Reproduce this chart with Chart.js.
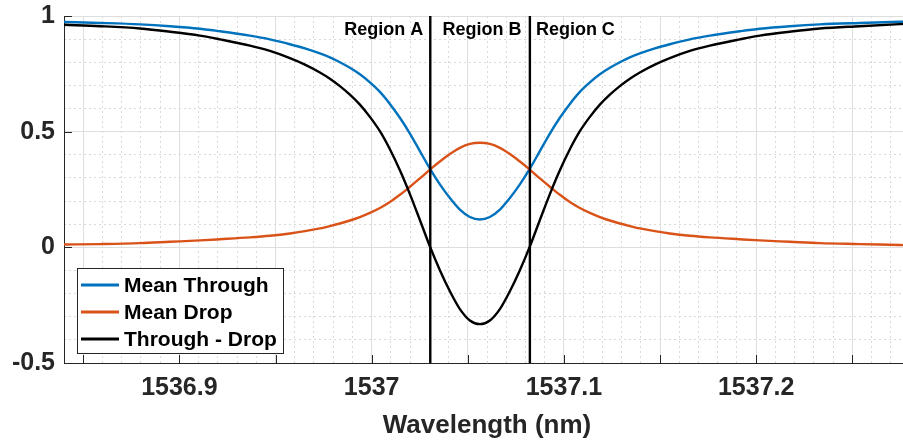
<!DOCTYPE html>
<html>
<head>
<meta charset="utf-8">
<script src="https://cdn.jsdelivr.net/npm/chart.js@4.4.1/dist/chart.umd.min.js"></script>
<style>
html,body{margin:0;padding:0;overflow:hidden;background:#fff;width:903px;height:441px;}
#wrap{width:912px;height:441px;position:relative;}
canvas{display:block;}
</style>
</head>
<body>
<div id="wrap"><canvas id="c" width="912" height="441"></canvas></div>
<script>
// ---------- data ----------
const wavelength = [
  1536.8400, 1536.8587, 1536.8795, 1536.8951, 1536.9107, 1536.9211, 1536.9367, 1536.9471,
  1536.9575, 1536.9653, 1536.9731, 1536.9783, 1536.9835, 1536.9887, 1536.9939, 1536.9991,
  1537.0043, 1537.0095, 1537.0147, 1537.0199, 1537.0251, 1537.0303, 1537.0355, 1537.0407,
  1537.0459, 1537.0511, 1537.0563, 1537.0615, 1537.0667, 1537.0719, 1537.0771, 1537.0823,
  1537.0875, 1537.0927, 1537.0979, 1537.1031, 1537.1083, 1537.1135, 1537.1187, 1537.1239,
  1537.1291, 1537.1343, 1537.1395, 1537.1473, 1537.1551, 1537.1655, 1537.1759, 1537.1915,
  1537.2019, 1537.2175, 1537.2331, 1537.2539, 1537.2747, 1537.2800
];
const meanThrough = [
  0.974, 0.970, 0.964, 0.956, 0.945, 0.934, 0.915, 0.899,
  0.878, 0.860, 0.838, 0.821, 0.800, 0.776, 0.748, 0.713,
  0.672, 0.620, 0.560, 0.492, 0.416, 0.340, 0.272, 0.213,
  0.163, 0.131, 0.120, 0.131, 0.163, 0.213, 0.272, 0.340,
  0.416, 0.492, 0.560, 0.620, 0.672, 0.713, 0.748, 0.776,
  0.800, 0.821, 0.838, 0.860, 0.878, 0.899, 0.915, 0.934,
  0.945, 0.956, 0.964, 0.970, 0.975, 0.976
];
const meanDrop = [
  0.012, 0.014, 0.018, 0.024, 0.030, 0.035, 0.043, 0.050,
  0.060, 0.070, 0.082, 0.092, 0.103, 0.116, 0.131, 0.149,
  0.170, 0.196, 0.227, 0.262, 0.298, 0.336, 0.371, 0.403,
  0.430, 0.447, 0.452, 0.447, 0.430, 0.403, 0.371, 0.336,
  0.298, 0.262, 0.227, 0.196, 0.170, 0.149, 0.131, 0.116,
  0.103, 0.092, 0.082, 0.070, 0.060, 0.050, 0.043, 0.035,
  0.030, 0.024, 0.018, 0.014, 0.010, 0.009
];
const throughMinusDrop = [
  0.962, 0.956, 0.946, 0.932, 0.915, 0.899, 0.872, 0.849,
  0.818, 0.790, 0.756, 0.729, 0.697, 0.660, 0.617, 0.564,
  0.502, 0.424, 0.333, 0.230, 0.118, 0.004, -0.099, -0.190,
  -0.267, -0.316, -0.332, -0.316, -0.267, -0.190, -0.099, 0.004,
  0.118, 0.230, 0.333, 0.424, 0.502, 0.564, 0.617, 0.660,
  0.697, 0.729, 0.756, 0.790, 0.818, 0.849, 0.872, 0.899,
  0.915, 0.932, 0.946, 0.956, 0.965, 0.967
];
const seriesNames = ['Mean Through', 'Mean Drop', 'Through - Drop'];
const regionBounds = [1537.0305, 1537.0823];
const regionNames = ['Region A', 'Region B', 'Region C'];
const xRange = [1536.84, 1537.28];
const yRange = [-0.5, 1];
const xMajorTicks = [1536.85, 1536.90, 1536.95, 1537.00, 1537.05, 1537.10, 1537.15, 1537.20, 1537.25];
const xTickLabels = ['1536.9', '1537', '1537.1', '1537.2'];
const yMajorTicks = [-0.5, 0, 0.5, 1];
const yTickLabels = ['-0.5', '0', '0.5', '1'];
const xTitle = 'Wavelength (nm)';

// minor grid tick values (0.01 nm, 0.1)
const xMinorTicks = [];
for (let i = 85; i <= 127; i++) { if (i % 5 !== 0) xMinorTicks.push(1536 + i / 100); }
const yMinorTicks = [];
for (let i = -4; i <= 9; i++) { if (i % 5 !== 0) yMinorTicks.push(i / 10); }

// ---------- styling ----------
const FONT = "'Liberation Sans', Arial, Helvetica, sans-serif";
const AXIS_COLOR = '#262626';
const COLORS = ['#0072BD', '#D95319', '#000000'];

const pts = (ys) => wavelength.map((x, i) => ({x: x, y: ys[i]}));

const datasets = [
  {label: seriesNames[0], data: pts(meanThrough), borderColor: COLORS[0], order: 3},
  {label: seriesNames[1], data: pts(meanDrop), borderColor: COLORS[1], order: 2},
  {label: seriesNames[2], data: pts(throughMinusDrop), borderColor: COLORS[2], order: 1},
  {label: '', isBound: true, data: [{x: regionBounds[0], y: yRange[0]}, {x: regionBounds[0], y: yRange[1]}], borderColor: '#000', order: 0, cubicInterpolationMode: 'default', tension: 0},
  {label: '', isBound: true, data: [{x: regionBounds[1], y: yRange[0]}, {x: regionBounds[1], y: yRange[1]}], borderColor: '#000', order: 0, cubicInterpolationMode: 'default', tension: 0}
].map(d => Object.assign({borderWidth: 2.4, pointRadius: 0, fill: false, cubicInterpolationMode: 'monotone'}, d));

function near(a, b) { return Math.abs(a - b) < 1e-6; }

const overlayPlugin = {
  id: 'overlay',
  afterDraw(chart) {
    const ctx = chart.ctx;
    const area = chart.chartArea;
    const xs = chart.scales.x, ys = chart.scales.y;
    ctx.save();
    // inward tick marks
    ctx.strokeStyle = AXIS_COLOR;
    ctx.lineWidth = 1;
    ctx.beginPath();
    xMajorTicks.forEach(v => {
      const px = Math.round(xs.getPixelForValue(v)) + 0.5;
      ctx.moveTo(px, area.bottom); ctx.lineTo(px, area.bottom - 8);
    });
    yMajorTicks.forEach(v => {
      const py = Math.round(ys.getPixelForValue(v)) + 0.5;
      ctx.moveTo(area.left, py); ctx.lineTo(area.left + 8, py);
    });
    ctx.stroke();

    // region labels
    ctx.fillStyle = '#000';
    ctx.font = 'bold 18px ' + FONT;
    ctx.textBaseline = 'middle';
    const ly = area.top + 14;
    const b0 = xs.getPixelForValue(regionBounds[0]);
    const b1 = xs.getPixelForValue(regionBounds[1]);
    ctx.textAlign = 'right'; ctx.fillText(regionNames[0], b0 - 7, ly);
    ctx.textAlign = 'center'; ctx.fillText(regionNames[1], (b0 + b1) / 2 + 2, ly);
    ctx.textAlign = 'left'; ctx.fillText(regionNames[2], b1 + 6, ly);

    // legend
    const bx = area.left + 13, by = area.bottom - 95, bw = 206, bh = 85;
    ctx.fillStyle = '#ffffff';
    ctx.fillRect(bx, by, bw, bh);
    ctx.strokeStyle = '#262626';
    ctx.lineWidth = 1;
    ctx.strokeRect(bx + 0.5, by + 0.5, bw, bh);
    ctx.font = 'bold 21px ' + FONT;
    ctx.textAlign = 'left';
    ctx.textBaseline = 'middle';
    chart.data.datasets.filter(d => !d.isBound).forEach((d, i) => {
      const ry = by + 17 + i * 27;
      ctx.strokeStyle = d.borderColor;
      ctx.lineWidth = 3;
      ctx.beginPath();
      ctx.moveTo(bx + 4, ry); ctx.lineTo(bx + 42, ry);
      ctx.stroke();
      ctx.fillStyle = '#000';
      ctx.fillText(d.label, bx + 47, ry + 1);
    });
    ctx.restore();
  }
};

new Chart(document.getElementById('c'), {
  type: 'line',
  data: {datasets: datasets},
  plugins: [overlayPlugin],
  options: {
    responsive: false,
    animation: false,
    devicePixelRatio: 1,
    layout: {padding: {left: 0, right: 2, top: 16, bottom: 0}},
    plugins: {legend: {display: false}, tooltip: {enabled: false}},
    scales: {
      x: {
        type: 'linear', position: 'bottom', min: xRange[0], max: xRange[1],
        afterBuildTicks: s => { s.ticks = xMajorTicks.map(v => ({value: v})); },
        afterFit: s => { s.height = 78; s.paddingLeft = 0; s.paddingRight = 0; },
        ticks: {
          autoSkip: false, maxRotation: 0, minRotation: 0, padding: 10,
          color: AXIS_COLOR, font: {family: FONT, size: 25, weight: 'bold'},
          callback: v => { const l = xTickLabels.find(t => near(parseFloat(t), v)); return l === undefined ? '' : l; }
        },
        grid: {color: '#dedede', lineWidth: 1, drawTicks: false},
        border: {display: true, color: AXIS_COLOR, width: 1},
        title: {display: true, text: xTitle, color: AXIS_COLOR, font: {family: FONT, size: 26, weight: 'bold'}, padding: {top: 0, bottom: 0}}
      },
      xMinor: {
        type: 'linear', position: 'bottom', min: xRange[0], max: xRange[1],
        afterBuildTicks: s => { s.ticks = xMinorTicks.map(v => ({value: v})); },
        afterFit: s => { s.height = 0; s.paddingLeft = 0; s.paddingRight = 0; },
        ticks: {display: false},
        grid: {color: '#d9d9d9', lineWidth: 1, drawTicks: false},
        border: {display: false, dash: [2, 3]}
      },
      y: {
        type: 'linear', position: 'left', min: yRange[0], max: yRange[1],
        afterBuildTicks: s => { s.ticks = yMajorTicks.map(v => ({value: v})); },
        afterFit: s => { s.width = 64; s.paddingTop = 0; s.paddingBottom = 0; },
        ticks: {
          padding: 9, color: AXIS_COLOR, font: {family: FONT, size: 25, weight: 'bold'},
          callback: v => { const l = yTickLabels.find(t => near(parseFloat(t), v)); return l === undefined ? '' : l; }
        },
        grid: {color: '#dedede', lineWidth: 1, drawTicks: false},
        border: {display: true, color: AXIS_COLOR, width: 1}
      },
      yMinor: {
        type: 'linear', position: 'left', min: yRange[0], max: yRange[1],
        afterBuildTicks: s => { s.ticks = yMinorTicks.map(v => ({value: v})); },
        afterFit: s => { s.width = 0; s.paddingTop = 0; s.paddingBottom = 0; },
        ticks: {display: false},
        grid: {color: '#d9d9d9', lineWidth: 1, drawTicks: false},
        border: {display: false, dash: [2, 3]}
      }
    }
  }
});
</script>
</body>
</html>
